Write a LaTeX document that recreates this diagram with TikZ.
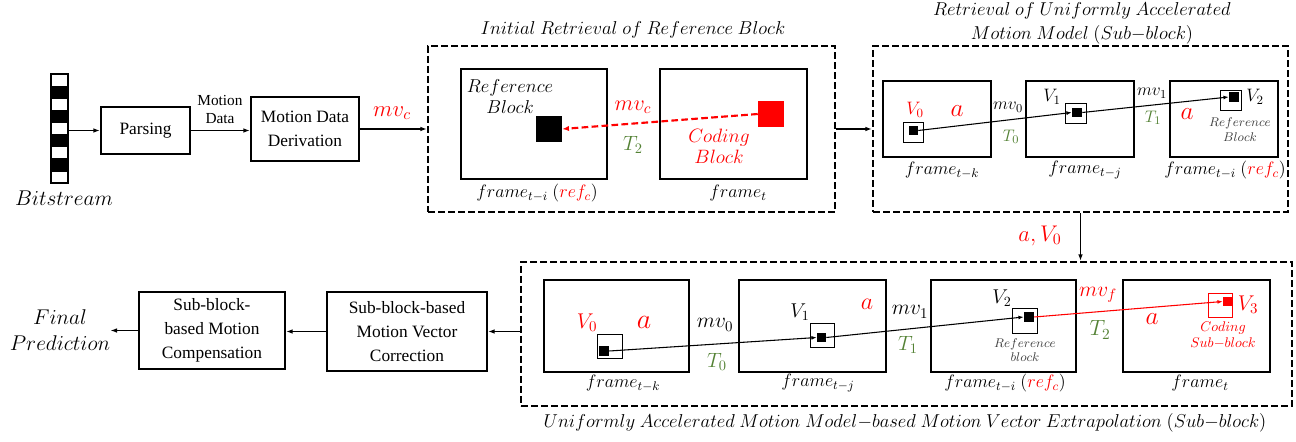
\RequirePackage{fix-cm}
\documentclass[tikz,border=0pt]{standalone}
\usepackage{fontspec}
\setmainfont{Liberation Serif}
\usetikzlibrary{arrows.meta}
\definecolor{myred}{RGB}{255,0,0}
\definecolor{mygreen}{RGB}{84,130,53}
\definecolor{mygray}{RGB}{64,64,64}
\newcommand\fsz[2]{\fontsize{#1}{#2}\selectfont}
\begin{document}
\begin{tikzpicture}[x=0.75pt,y=-0.75pt,
  sz/.style 2 args={minimum width=#1*0.75pt, minimum height=#2*0.75pt},
  frm/.style={draw, line width=1.5pt, inner sep=0pt},
  dbox/.style={draw, line width=1.5pt, dash pattern=on 5pt off 2.5pt, inner sep=0pt},
  proc/.style={draw, line width=1.5pt, align=center, inner sep=0pt, font=\fsz{13}{18}},
  sb/.style={draw, line width=0.7pt, inner sep=0pt},
  blk/.style={fill=black, inner sep=0pt},
  rblk/.style={fill=myred, inner sep=0pt},
  arr/.style={line width=1.3pt, -{Latex[length=5pt,width=3.5pt]}},
  tarr/.style={line width=0.8pt, -{Latex[length=4pt,width=3pt]}},
  lbl/.style={inner sep=0pt},
  ttl/.style={inner sep=0pt, font=\fsz{14}{15}, align=center},
  flbl/.style={inner sep=0pt, font=\fsz{13.5}{15}},
  small/.style={inner sep=0pt, font=\fsz{9.5}{11}, align=center, text=mygray}
]
\useasboundingbox (0,0) rectangle (1296,442);

% ---------- bitstream ----------
\node[draw, line width=0.8pt, sz={17}{109}, inner sep=0pt] (bar) at (59.5,128.5) {};
\foreach \i in {1,3,5,7} \fill (51,{74+\i*109/9}) rectangle (68,{74+(\i+1)*109/9});
\foreach \i in {1,...,8} \draw[line width=0.5pt] (51,{74+\i*109/9}) -- (68,{74+\i*109/9});
\node[lbl, font=\fsz{16}{19}] (bitl) at (64,198) {$Bitstream$};

% ---------- top-left pipeline ----------
\node[proc, sz={89}{47}] (parse) at (145.5,130.5) {Parsing};
\node[proc, sz={108}{64}] (mdd) at (305,129) {Motion Data\\Derivation};
\node[lbl, font=\fsz{11.5}{13.5}, align=center] (mdl) at (220,109) {Motion\\Data};
\draw[arr] (bar.east |- parse.west) -- (parse.west);
\draw[arr] (parse.east) -- (mdd.west |- parse.east);

% ---------- box 1 ----------
\node[dbox, sz={407}{166}] (box1) at (631.5,129) {};
\node[ttl] (t1) at (633,30) {$Initial\ Retrieval\ of\ Reference\ Block$};
\draw[arr] (mdd.east) -- (box1.west);
\node[lbl, text=myred, font=\fsz{17}{20}] (mvc0) at (392,113) {$mv_c$};

\node[frm, sz={146}{110}] (f1a) at (534,124) {};
\node[frm, sz={147}{110}] (f1b) at (733.5,124) {};
\node[blk, sz={26}{26}] (rb1) at (549,129) {};
\node[rblk, sz={26}{26}] (cb1) at (771,114) {};
\draw[myred, line width=1.6pt, dash pattern=on 5pt off 2.5pt, -{Latex[length=5pt,width=4pt]}] (cb1.west) -- (rb1.east);
\node[lbl, font=\fsz{14}{16}, align=center] (refl1) at (510,96.5) {$Reference$\\$Block$};
\node[lbl, text=myred, font=\fsz{16.5}{20}] (mvc1) at (633,107) {$mv_c$};
\node[lbl, text=mygreen, font=\fsz{15.5}{20}] (T21) at (633,145) {$T_2$};
\node[lbl, text=myred, font=\fsz{14.5}{16}, align=center] (codl1) at (719,146.5) {$Coding$\\$Block$};
\node[flbl] (fl1a) at (537,193) {$frame_{t-i}\ (\textcolor{myred}{ref_c})$};
\node[flbl] (fl1b) at (738,193) {$frame_t$};

% ---------- box 2 ----------
\node[dbox, sz={415}{166}] (box2) at (1080.5,129) {};
\node[ttl] (t2) at (1082,23) {$Retrieval\ of\ Uniformly\ Accelerated$\\[3pt]$Motion\ Model\ (Sub{-}block)$};
\draw[arr] (box1.east) -- (box2.west);

\node[frm, sz={108}{76}] (f2a) at (937,119) {};
\node[frm, sz={108}{76}] (f2b) at (1080,119) {};
\node[frm, sz={108}{76}] (f2c) at (1224,119) {};
\node[sb, sz={20}{20}] (s2a) at (913,132) {};
\node[blk, sz={9}{9}] (k2a) at (913.5,130.5) {};
\node[sb, sz={21}{20}] (s2b) at (1075.5,113) {};
\node[blk, sz={10}{9}] (k2b) at (1077,112.5) {};
\node[sb, sz={21}{20}] (s2c) at (1230.5,100) {};
\node[blk, sz={10}{10}] (k2c) at (1234,97) {};
\draw[tarr] (k2a.east) -- (k2b.west);
\draw[tarr] (k2b.east) -- (k2c.west);
\node[lbl, text=myred, font=\fsz{13.5}{16}] (v0u) at (915,110) {$V_0$};
\node[lbl, text=myred, font=\fsz{19}{20}] (au1) at (957,111) {$a$};
\node[lbl, font=\fsz{13}{16}] (mv0u) at (1008,107) {$mv_0$};
\node[lbl, text=mygreen, font=\fsz{12.5}{16}] (T0u) at (1011,137) {$T_0$};
\node[lbl, font=\fsz{13.5}{16}] (v1u) at (1052,97) {$V_1$};
\node[lbl, font=\fsz{13}{16}] (mv1u) at (1152,93) {$mv_1$};
\node[lbl, text=mygreen, font=\fsz{12.5}{16}] (T1u) at (1153,118) {$T_1$};
\node[lbl, text=myred, font=\fsz{19}{20}] (au2) at (1187,114) {$a$};
\node[lbl, font=\fsz{13.5}{16}] (v2u) at (1255,97) {$V_2$};
\node[small] (refl2) at (1240,129.5) {$Reference$\\$Block$};
\node[flbl] (fl2a) at (942,170) {$frame_{t-k}$};
\node[flbl] (fl2b) at (1085,170) {$frame_{t-j}$};
\node[flbl] (fl2c) at (1225,170) {$frame_{t-i}\ (\textcolor{myred}{ref_c})$};

% ---------- box 3 ----------
\node[dbox, sz={771}{144}] (box3) at (906.5,334) {};
\draw[arr] (box2.south) -- (box2.south |- box3.north);
\node[lbl, text=myred, font=\fsz{17}{20}] (aV0) at (1040,236) {$a, V_0$};
\node[ttl] (t3) at (905,423) {$Uniformly\ Accelerated\ Motion\ Model{-}based\ Motion\ Vector\ Extrapolation\ (Sub{-}block)$};

\node[frm, sz={145}{92}] (g1) at (616.5,326) {};
\node[frm, sz={147}{92}] (g2) at (812.5,326) {};
\node[frm, sz={145}{92}] (g3) at (1003.5,326) {};
\node[frm, sz={147}{92}] (g4) at (1196.5,326) {};
\node[sb, sz={25}{24}] (s3a) at (609.5,346) {};
\node[blk, sz={10}{10}] (k3a) at (604,351) {};
\node[sb, sz={24}{24}] (s3b) at (822,335) {};
\node[blk, sz={9}{9}] (k3b) at (821.5,337.5) {};
\node[sb, sz={25}{25}] (s3c) at (1024.5,320.5) {};
\node[blk, sz={10}{10}] (k3c) at (1029,317) {};
\node[sb, draw=myred, sz={24}{24}] (s3d) at (1220,305) {};
\node[rblk, sz={9}{9}] (k3d) at (1227.5,301.5) {};
\draw[tarr] (k3a.east) -- (k3b.west);
\draw[tarr] (k3b.east) -- (k3c.west);
\draw[tarr, myred] (k3c.east) -- (k3d.west);

\node[lbl, text=myred, font=\fsz{16}{18}] (v0l) at (587,323) {$V_0$};
\node[lbl, text=myred, font=\fsz{21}{22}] (al1) at (644,322) {$a$};
\node[lbl, font=\fsz{16}{18}] (mv0l) at (715,325) {$mv_0$};
\node[lbl, text=mygreen, font=\fsz{15.5}{18}] (T0l) at (717,362) {$T_0$};
\node[lbl, font=\fsz{15}{18}] (v1l) at (800,312) {$V_1$};
\node[lbl, text=myred, font=\fsz{18}{20}] (al2) at (867,304) {$a$};
\node[lbl, font=\fsz{16}{18}] (mv1l) at (910,312) {$mv_1$};
\node[lbl, text=mygreen, font=\fsz{15.5}{18}] (T1l) at (908,345) {$T_1$};
\node[lbl, font=\fsz{15}{18}] (v2l) at (1002,298) {$V_2$};
\node[small] (refl3) at (1025,350) {$Reference$\\$block$};
\node[lbl, text=myred, font=\fsz{16}{18}] (mvfl) at (1098,295) {$mv_f$};
\node[lbl, text=mygreen, font=\fsz{16.5}{18}] (T2l) at (1100,330) {$T_2$};
\node[lbl, text=myred, font=\fsz{19}{20}] (al3) at (1152,319) {$a$};
\node[lbl, text=myred, font=\fsz{16}{18}] (v3l) at (1248,305) {$V_3$};
\node[small, text=myred, font=\fsz{10.5}{12}] (codl3) at (1223,335) {$Coding$\\$Sub{-}block$};
\node[flbl] (fl3a) at (623,383) {$frame_{t-k}$};
\node[flbl] (fl3b) at (818,383) {$frame_{t-j}$};
\node[flbl] (fl3c) at (1005,383) {$frame_{t-i}\ (\textcolor{myred}{ref_c})$};
\node[flbl] (fl3d) at (1200,383) {$frame_t$};

% ---------- bottom-left pipeline ----------
\node[proc, sz={160}{79}] (corr) at (407,331.5) {Sub-block-based\\Motion Vector\\Correction};
\node[proc, sz={146}{77}] (comp) at (212,330.5) {Sub-block-\\based Motion\\Compensation};
\node[lbl, font=\fsz{16}{19.5}, align=center] (fin) at (60,330) {$Final$\\$Prediction$};
\draw[arr] (box3.west |- corr.east) -- (corr.east);
\draw[arr] (corr.west) -- (comp.east |- corr.west);
\draw[arr] (comp.west) -- (fin.east |- comp.west);
\end{tikzpicture}
\end{document}
